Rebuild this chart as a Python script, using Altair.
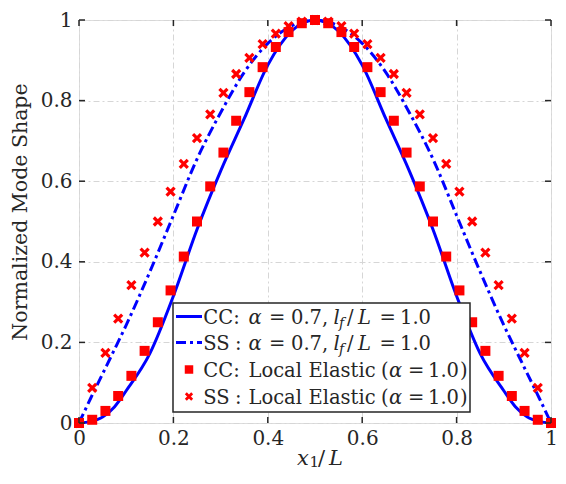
import altair as alt
import pandas as pd

# ---------------- data ----------------
marker_x = [0.0, 0.028, 0.056, 0.083, 0.111, 0.139, 0.167, 0.194, 0.222, 0.25,
            0.278, 0.306, 0.333, 0.361, 0.389, 0.417, 0.444, 0.472, 0.5,
            0.528, 0.556, 0.583, 0.611, 0.639, 0.667, 0.694, 0.722, 0.75,
            0.778, 0.806, 0.833, 0.861, 0.889, 0.917, 0.944, 0.972, 1.0]
cc_local = [0.0, 0.008, 0.030, 0.067, 0.117, 0.179, 0.25, 0.329, 0.413, 0.5,
            0.587, 0.671, 0.75, 0.821, 0.883, 0.933, 0.970, 0.992, 1.0,
            0.992, 0.970, 0.933, 0.883, 0.821, 0.75, 0.671, 0.587, 0.5,
            0.413, 0.329, 0.25, 0.179, 0.117, 0.067, 0.030, 0.008, 0.0]
ss_local = [0.0, 0.087, 0.174, 0.259, 0.342, 0.423, 0.5, 0.574, 0.643, 0.707,
            0.766, 0.819, 0.866, 0.906, 0.940, 0.966, 0.985, 0.996, 1.0,
            0.996, 0.985, 0.966, 0.940, 0.906, 0.866, 0.819, 0.766, 0.707,
            0.643, 0.574, 0.5, 0.423, 0.342, 0.259, 0.174, 0.087, 0.0]

line_x = [0.0, 0.025, 0.05, 0.075, 0.1, 0.15, 0.2, 0.25, 0.3, 0.35, 0.4, 0.45, 0.5,
          0.55, 0.6, 0.65, 0.7, 0.75, 0.8, 0.85, 0.9, 0.925, 0.95, 0.975, 1.0]
cc_frac = [0.0, 0.004, 0.015, 0.04, 0.08, 0.172, 0.315, 0.48, 0.625, 0.755, 0.888, 0.972, 1.0,
           0.972, 0.888, 0.755, 0.625, 0.48, 0.315, 0.172, 0.08, 0.04, 0.015, 0.004, 0.0]
ss_frac = [0.0, 0.062, 0.122, 0.182, 0.243, 0.375, 0.515, 0.655, 0.77, 0.87, 0.942, 0.985, 1.0,
           0.985, 0.942, 0.87, 0.77, 0.655, 0.515, 0.375, 0.243, 0.182, 0.122, 0.062, 0.0]

tick_values = [0, 0.2, 0.4, 0.6, 0.8, 1]

# ---------------- styling ----------------
FONT = "DejaVu Serif"
TXT = "#262626"
PAD_L, PAD_T = 71, 12          # plot area starts at page (8 + PAD_L, 8 + PAD_T)
W, H = 472, 403
OX = 80 - (8 + PAD_L)          # shifts for items laid out in reference page coordinates
OY = 16 - (8 + PAD_T)
BLUE = "#0000ff"
RED = "#ff0000"

df_cc_line = pd.DataFrame({"x": line_x, "y": cc_frac})
df_ss_line = pd.DataFrame({"x": line_x, "y": ss_frac})
df_cc_pts = pd.DataFrame({"x": marker_x, "y": cc_local})
df_ss_pts = pd.DataFrame({"x": marker_x, "y": ss_local})
df_ticks = pd.DataFrame({"x": tick_values, "y": tick_values})
one = pd.DataFrame({"a": [0]})

SX = alt.Scale(domain=[0, 1], nice=False, zero=False)
SY = alt.Scale(domain=[0, 1], nice=False, zero=False)
LBL = "datum.value == 0 ? '0' : datum.value == 1 ? '1' : format(datum.value, '.1f')"
AX = alt.Axis(values=tick_values, labelExpr=LBL, grid=True, ticks=False, domain=False,
              labelFont=FONT, labelFontSize=20, labelColor=TXT, labelPadding=5,
              labelFlush=False, labelOverlap=False, title=None,
              gridDash=[6, 3, 2, 3], gridColor="#d6d6d6", gridWidth=1)
AY = alt.Axis(values=tick_values, labelExpr=LBL, grid=True, ticks=False, domain=False,
              labelFont=FONT, labelFontSize=20, labelColor=TXT, labelPadding=7,
              labelFlush=False, labelOverlap=False, title=None,
              gridDash=[6, 3, 2, 3], gridColor="#d6d6d6", gridWidth=1)


def X(f="x"):
    return alt.X(f, type="quantitative", scale=SX, axis=AX)


def Y(f="y"):
    return alt.Y(f, type="quantitative", scale=SY, axis=AY)


X_PATH = "M -1 -1 L 1 1 M 1 -1 L -1 1"

layers = []

# data layers
layers.append(alt.Chart(df_ss_line).mark_line(color=BLUE, strokeWidth=3, strokeDash=[10, 4, 3, 4],
                                              interpolate="monotone").encode(x=X(), y=Y()))
layers.append(alt.Chart(df_cc_line).mark_line(color=BLUE, strokeWidth=3,
                                              interpolate="monotone").encode(x=X(), y=Y()))
layers.append(alt.Chart(df_cc_pts).mark_square(color=RED, size=100, opacity=1,
                                               cornerRadius=2).encode(x=X(), y=Y()))
layers.append(alt.Chart(df_ss_pts).mark_point(shape=X_PATH, color=RED, filled=False, size=64,
                                              strokeWidth=3.2, opacity=1).encode(x=X(), y=Y()))

# inward ticks on all four sides
tk = dict(color=TXT, strokeWidth=1.5)
layers.append(alt.Chart(df_ticks).mark_rule(**tk).encode(x=X(), y=alt.value(H), y2=alt.value(H - 6)))
layers.append(alt.Chart(df_ticks).mark_rule(**tk).encode(x=X(), y=alt.value(0), y2=alt.value(6)))
layers.append(alt.Chart(df_ticks).mark_rule(**tk).encode(y=Y(), x=alt.value(0), x2=alt.value(6)))
layers.append(alt.Chart(df_ticks).mark_rule(**tk).encode(y=Y(), x=alt.value(W), x2=alt.value(W - 6)))


def txt(s, x, y, size=19.5, italic=False, angle=0, align="left", baseline="alphabetic"):
    kw = dict(text=s, font=FONT, fontSize=size, color=TXT, align=align, baseline=baseline,
              fontStyle="italic" if italic else "normal")
    if angle:
        kw["angle"] = angle
    return alt.Chart(one).mark_text(**kw).encode(x=alt.value(x + OX), y=alt.value(y + OY))


# legend box
layers.append(alt.Chart(one).mark_rect(fill="white", stroke=TXT, strokeWidth=1.5).encode(
    x=alt.value(93 + OX), x2=alt.value(390 + OX), y=alt.value(287 + OY), y2=alt.value(396 + OY)))
rows = [300.5, 326.5, 353.5, 380.5]
layers.append(alt.Chart(one).mark_rule(color=BLUE, strokeWidth=3).encode(
    x=alt.value(96 + OX), x2=alt.value(122 + OX), y=alt.value(rows[0] + OY)))
layers.append(alt.Chart(one).mark_rule(color=BLUE, strokeWidth=3, strokeDash=[10, 4, 3, 4]).encode(
    x=alt.value(96 + OX), x2=alt.value(122 + OX), y=alt.value(rows[1] + OY)))
layers.append(alt.Chart(one).mark_square(color=RED, size=72, opacity=1, cornerRadius=2).encode(
    x=alt.value(109 + OX), y=alt.value(rows[2] + OY)))
layers.append(alt.Chart(one).mark_point(shape=X_PATH, color=RED, filled=False, size=40,
                                        strokeWidth=2.8, opacity=1).encode(
    x=alt.value(109 + OX), y=alt.value(rows[3] + OY)))

for i, lead in enumerate([["CC:"], ["SS", ":"]]):
    b = rows[i] + 7
    layers.append(txt(lead[0], 123.3, b))
    if len(lead) > 1:
        layers.append(txt(lead[1], 155, b))
    layers.append(txt("α", 168.5, b, italic=True))
    layers.append(txt("=", 189, b))
    layers.append(txt("0.7,", 211, b))
    layers.append(txt("l", 253.5, b, italic=True))
    layers.append(txt("f", 259, b + 4, size=14, italic=True))
    layers.append(txt("/", 267, b))
    layers.append(txt("L", 278, b, italic=True))
    layers.append(txt("=", 299.5, b))
    layers.append(txt("1.0", 320, b))

for i, lead in enumerate([["CC:"], ["SS", ":"]]):
    b = rows[i + 2] + 7
    layers.append(txt(lead[0], 123.3, b))
    if len(lead) > 1:
        layers.append(txt(lead[1], 155, b))
    layers.append(txt("Local", 168.5, b))
    layers.append(txt("Elastic", 228.5, b))
    layers.append(txt("(", 301, b))
    layers.append(txt("α", 309, b, italic=True))
    layers.append(txt("=", 328, b))
    layers.append(txt("1.0", 348, b))
    layers.append(txt(")", 380, b))

# axis titles (page-referenced: plot y = page y - 16)
layers.append(txt("Normalized Mode Shape", -59, 196, size=20.5, angle=270, align="center",
                  baseline="middle"))
layers.append(txt("x", 217, 449, size=21, italic=True))
layers.append(txt("1", 229.5, 451, size=15))
layers.append(txt("/", 238, 449, size=21))
layers.append(txt("L", 249, 449, size=21, italic=True))

chart = alt.layer(*layers).properties(
    width=W, height=H,
    autosize=alt.AutoSizeParams(type="none"),
    padding={"left": PAD_L, "top": PAD_T, "right": 7, "bottom": 48},
).configure_view(stroke=TXT, strokeWidth=1.5).configure(background="white")

chart.save("out.html", embed_options={"renderer": "svg", "actions": False})
